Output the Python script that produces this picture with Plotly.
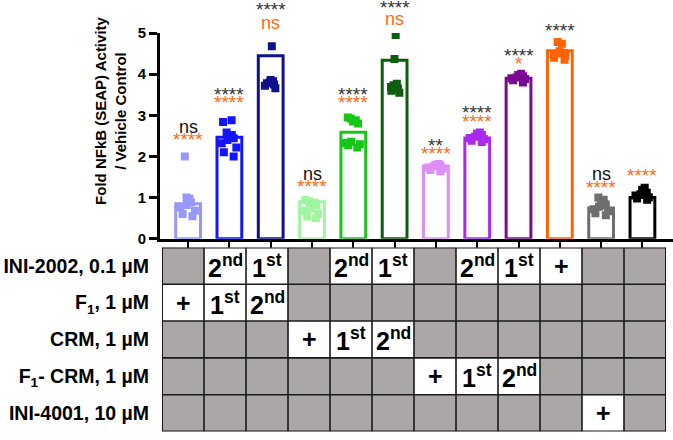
import plotly.graph_objects as go

# ---------------- data ----------------
bar_means = [0.85, 2.47, 4.45, 0.90, 2.59, 4.34, 1.77, 2.45, 3.90, 4.57, 0.75, 1.00]
points = [
    [2.00, 1.00, 0.97, 0.93, 0.88, 0.82, 0.76, 0.68, 0.60, 0.55],
    [2.88, 2.84, 2.58, 2.52, 2.48, 2.44, 2.40, 2.32, 2.22, 2.10, 2.00],
    [4.68, 3.86, 3.83, 3.80, 3.78, 3.75, 3.72, 3.66],
    [0.94, 0.91, 0.88, 0.85, 0.80, 0.74, 0.68, 0.60, 0.54, 0.50],
    [2.95, 2.92, 2.88, 2.85, 2.80, 2.36, 2.33, 2.30, 2.27, 2.22],
    [4.95, 4.37, 3.77, 3.73, 3.69, 3.65, 3.60, 3.55],
    [1.82, 1.80, 1.78, 1.76, 1.73, 1.70, 1.67, 1.64],
    [2.58, 2.55, 2.52, 2.48, 2.45, 2.42, 2.38, 2.35],
    [4.01, 3.98, 3.95, 3.92, 3.90, 3.88, 3.85, 3.80],
    [4.78, 4.74, 4.56, 4.52, 4.50, 4.47, 4.44, 4.40, 4.35],
    [1.00, 0.95, 0.89, 0.83, 0.78, 0.72, 0.67, 0.62, 0.57],
    [1.24, 1.19, 1.12, 1.08, 1.05, 1.01, 0.98, 0.95],
]
bar_colors = ["#9898fa", "#1414ff", "#10108c", "#a0f5a0", "#16c816", "#0b5e0b",
              "#dd8ef7", "#aa28f0", "#7a0a96", "#ff6400", "#6e6e6e", "#000000"]

sig_black = ["ns", "****", "****", "ns", "****", "****", "**", "****", "****", "****", "ns", ""]
sig_orange = ["****", "****", "ns", "****", "****", "ns", "****", "****", "*", "", "****", "****"]
sig_black_y = [2.64, 3.44, 5.47, 1.50, 3.44, 5.52, 2.20, 2.99, 4.38, 4.98, 1.50, None]
sig_orange_y = [2.34, 3.23, 5.16, 1.19, 3.25, 5.26, 1.99, 2.78, 4.18, None, 1.17, 1.46]

row_labels = ["INI-2002, 0.1 µM", "F<sub>1</sub>, 1 µM", "CRM, 1 µM",
              "F<sub>1</sub>- CRM, 1 µM", "INI-4001, 10 µM"]
table_cells = [
    ["", "2nd", "1st", "", "2nd", "1st", "", "2nd", "1st", "+", "", ""],
    ["+", "1st", "2nd", "", "", "", "", "", "", "", "", ""],
    ["", "", "", "+", "1st", "2nd", "", "", "", "", "", ""],
    ["", "", "", "", "", "", "+", "1st", "2nd", "", "", ""],
    ["", "", "", "", "", "", "", "", "", "", "+", ""],
]

# ---------------- figure ----------------
W, H = 673, 440
Y_BOTTOM_PX, Y_TOP_PX = 239, 25
Y_MAX = 5
PX_PER_UNIT = (Y_BOTTOM_PX - Y_TOP_PX) / Y_MAX
FONT = "Liberation Sans, Arial, Helvetica, sans-serif"
ORANGE = "#ff6a14"
n = len(bar_means)
xs = list(range(n))

fig = go.Figure()
fig.add_trace(go.Bar(
    x=xs, y=bar_means, width=0.6,
    marker=dict(color="white", line=dict(color=bar_colors, width=3)),
    xaxis="x", yaxis="y", showlegend=False,
))
for i in range(n):
    fig.add_trace(go.Box(
        x=[i] * len(points[i]), y=points[i],
        boxpoints="all", jitter=1.0, pointpos=0, width=0.44,
        fillcolor="rgba(0,0,0,0)", line=dict(color="rgba(0,0,0,0)", width=0),
        marker=dict(symbol="square", size=8, color=bar_colors[i]),
        xaxis="x", yaxis="y", showlegend=False, hoverinfo="skip",
    ))

# table (heatmap)
z = [[1 if c else 0 for c in row] for row in table_cells]
fig.add_trace(go.Heatmap(
    z=z, x=xs, y=list(range(len(row_labels))),
    colorscale=[[0, "#aca7a7"], [1, "#ffffff"]], zmin=0, zmax=1,
    showscale=False, xaxis="x2", yaxis="y2", hoverinfo="skip",
))

annotations = []
STAR_SHIFT_PX = 3
NS_SHIFT_PX = 3


def sig_annotation(i, text, yval, color):
    is_star = text.startswith("*")
    y_in = min(yval, Y_MAX - 0.01)
    shift = (yval - y_in) * PX_PER_UNIT + (STAR_SHIFT_PX if is_star else NS_SHIFT_PX)
    return dict(x=i, y=y_in, yshift=shift, xref="x", yref="y", text=text,
                showarrow=False,
                font=dict(family=FONT, size=19 if is_star else 18, color=color))


for i in range(n):
    if sig_black[i]:
        col = "#333333" if sig_black[i].startswith("*") else "#111111"
        annotations.append(sig_annotation(i, sig_black[i], sig_black_y[i], col))
    if sig_orange[i]:
        annotations.append(sig_annotation(i, sig_orange[i], sig_orange_y[i], ORANGE))


def sup(s):
    if s in ("1st", "2nd"):
        return s[0] + "<sup>" + s[1:] + "</sup>"
    return s


for r, row in enumerate(table_cells):
    for c, s in enumerate(row):
        if s:
            annotations.append(dict(
                x=c, y=r, xref="x2", yref="y2", text=sup(s), showarrow=False,
                font=dict(family=FONT, size=25, color="black", weight="bold"),
            ))

annotations.append(dict(
    x=111 / W, y=(H - 106) / H, xref="paper", yref="paper",
    text="Fold NFkB (SEAP) Activity<br>/ Vehicle Control", textangle=-90,
    showarrow=False, xanchor="center", yanchor="middle",
    font=dict(family=FONT, size=15, color="black", weight="bold"),
))

shapes = []
nr, nc = len(row_labels), n
for k in range(nc + 1):
    shapes.append(dict(type="line", xref="x2", yref="y2", x0=k - 0.5, x1=k - 0.5,
                       y0=-0.5, y1=nr - 0.5,
                       line=dict(color="#1a1a1a", width=2 if k in (0, nc) else 1.6),
                       layer="above"))
for k in range(nr + 1):
    shapes.append(dict(type="line", xref="x2", yref="y2", x0=-0.5, x1=nc - 0.5,
                       y0=k - 0.5, y1=k - 0.5,
                       line=dict(color="#1a1a1a", width=2 if k in (0, nr) else 1.6),
                       layer="above"))

fig.update_layout(
    width=W, height=H,
    margin=dict(l=0, r=0, t=0, b=0),
    paper_bgcolor="white", plot_bgcolor="white",
    boxmode="overlay", bargap=0.4,
    font=dict(family=FONT, color="black"),
    xaxis=dict(domain=[160 / W, 1.0], range=[-0.68, 11.74], tickvals=xs,
               showticklabels=False, ticks="outside", ticklen=8, tickwidth=2, tickcolor="black",
               showline=True, linewidth=3, linecolor="black", showgrid=False, zeroline=False,
               fixedrange=True),
    yaxis=dict(domain=[(H - Y_BOTTOM_PX) / H, (H - Y_TOP_PX) / H], range=[0, Y_MAX],
               tickvals=[0, 1, 2, 3, 4, 5],
               ticks="outside", ticklen=8, tickwidth=2.5, tickcolor="black",
               tickfont=dict(family=FONT, size=15, color="black", weight="bold"),
               showline=True, linewidth=3, linecolor="black", showgrid=False, zeroline=False),
    xaxis2=dict(domain=[162 / W, 666 / W], range=[-0.5, nc - 0.5], anchor="y2",
                visible=False),
    yaxis2=dict(domain=[(H - 439.5) / H, (H - 248) / H], range=[nr - 0.5, -0.5], anchor="x2",
                tickvals=list(range(nr)), ticktext=row_labels,
                ticks="outside", ticklen=8, tickcolor="rgba(0,0,0,0)",
                tickfont=dict(family=FONT, size=19.5, color="black", weight="bold"),
                showline=False, showgrid=False, zeroline=False),
    annotations=annotations, shapes=shapes,
)

fig.write_html("out.html", config={"displayModeBar": False},
               post_script="document.body.style.margin='0';")
